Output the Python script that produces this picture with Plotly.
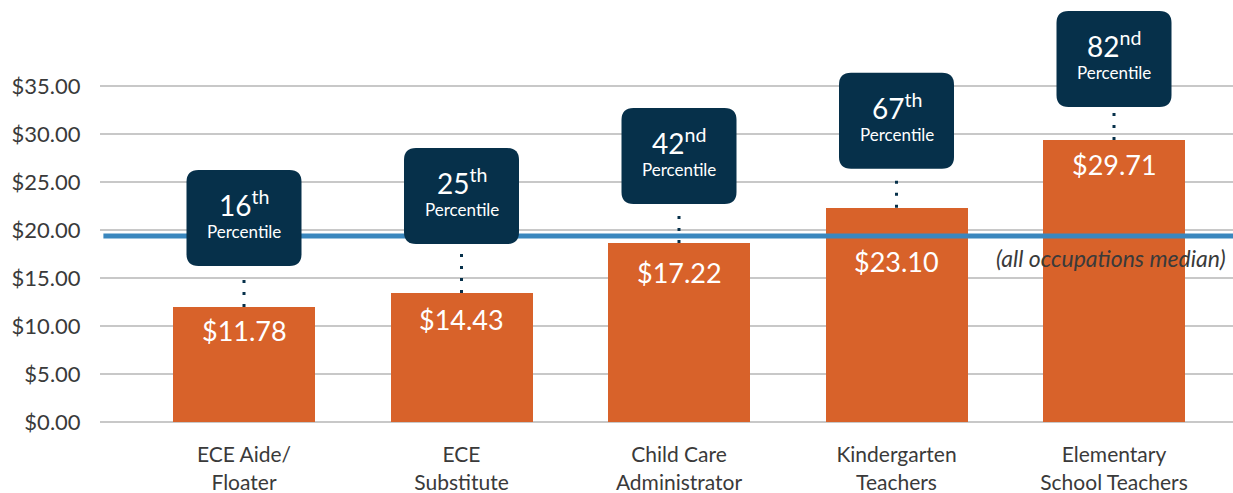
import plotly.graph_objects as go

# ---------------- data ----------------
categories = ["ECE Aide/<br>Floater", "ECE<br>Substitute", "Child Care<br>Administrator",
              "Kindergarten<br>Teachers", "Elementary<br>School Teachers"]
bar_heights = [11.98, 13.44, 18.65, 22.33, 29.38]          # bar tops as drawn
wage_labels = ["$11.78", "$14.43", "$17.22", "$23.10", "$29.71"]
pct_numbers = ["16", "25", "42", "67", "82"]
pct_suffixes = ["th", "th", "nd", "th", "nd"]
median_wage = 19.38
median_label = "(all occupations median)"
y_ticks = [0, 5, 10, 15, 20, 25, 30, 35]
y_ticktext = ["$%.2f" % v for v in y_ticks]

# ---------------- style / layout ----------------
W, H = 1233, 493
ML, MR, MT, MB = 100, 0, 0, 71
PW, PH = W - ML - MR, H - MT - MB
PX_PER_X = 217.5
PX_PER_Y = 9.6
x0 = -144 / PX_PER_X
XR = [x0, x0 + PW / PX_PER_X]
YR = [0, PH / PX_PER_Y]

BAR = "#D8622A"
NAVY = "#06304A"
BLUE = "#3A87BE"
GRID = "#C8C8C8"
TXT = "#3A3A3A"
FONT = "Lato"

box_gap_px = [41, 49, 39, 39, 33]
label_drop_px = [5, 8, 11, 35, 6]
BOX_W, BOX_H, RAD = 115, 96, 12

xs = list(range(len(categories)))

fig = go.Figure()
fig.add_trace(go.Bar(x=xs, y=bar_heights, marker=dict(color=BAR, line=dict(width=0)),
                     width=142 / PX_PER_X, hoverinfo="skip"))

shapes = []
annotations = []

# median line
shapes.append(dict(type="line", xref="paper", yref="y", x0=0.003, x1=1,
                   y0=median_wage, y1=median_wage, line=dict(color=BLUE, width=5), layer="above"))
annotations.append(dict(xref="paper", yref="y", x=1, y=median_wage, xanchor="right", yanchor="top",
                        xshift=-5, yshift=-6, showarrow=False, text="<i>" + median_label + "</i>",
                        font=dict(family=FONT, size=23, color=TXT)))


def rounded_rect(cx, yb, w_px, h_px, r_px):
    hw = w_px / 2 / PX_PER_X
    h = h_px / PX_PER_Y
    rx = r_px / PX_PER_X
    ry = r_px / PX_PER_Y
    l, r_, b, t = cx - hw, cx + hw, yb, yb + h
    return (f"M {l+rx},{b} L {r_-rx},{b} Q {r_},{b} {r_},{b+ry} L {r_},{t-ry} "
            f"Q {r_},{t} {r_-rx},{t} L {l+rx},{t} Q {l},{t} {l},{t-ry} L {l},{b+ry} "
            f"Q {l},{b} {l+rx},{b} Z")


for i, x in enumerate(xs):
    top = bar_heights[i]
    yb = top + box_gap_px[i] / PX_PER_Y
    # dotted connector
    shapes.append(dict(type="line", xref="x", yref="y", x0=x, x1=x, y0=top, y1=yb - 5 / PX_PER_Y,
                       line=dict(color=NAVY, width=3, dash="3px,9px"), layer="above"))
    # box
    shapes.append(dict(type="path", xref="x", yref="y", path=rounded_rect(x, yb, BOX_W, BOX_H, RAD),
                       fillcolor=NAVY, line=dict(width=0), layer="above"))
    annotations.append(dict(xref="x", yref="y", x=x, y=yb + BOX_H / 2 / PX_PER_Y, yshift=4,
                            showarrow=False, xanchor="center", yanchor="middle",
                            text=(f"<span style='font-size:28px'>{pct_numbers[i]}<sup>{pct_suffixes[i]}</sup></span>"
                                  f"<br>Percentile"),
                            font=dict(family=FONT, size=17, color="white")))
    # value label
    annotations.append(dict(xref="x", yref="y", x=x, y=top, yanchor="top", yshift=-label_drop_px[i],
                            showarrow=False, text=wage_labels[i],
                            font=dict(family=FONT, size=27, color="white")))

fig.update_layout(
    width=W, height=H, margin=dict(l=ML, r=MR, t=MT, b=MB),
    plot_bgcolor="white", paper_bgcolor="white", showlegend=False,
    font=dict(family=FONT, color=TXT),
    shapes=shapes, annotations=annotations, bargap=0,
    xaxis=dict(range=XR, tickvals=xs, ticktext=categories, showgrid=False, zeroline=False,
               showline=False, ticks="outside", ticklen=14, tickcolor="rgba(0,0,0,0)",
               tickfont=dict(family=FONT, size=21, color=TXT), fixedrange=True),
    yaxis=dict(range=YR, tickvals=y_ticks, ticktext=y_ticktext, showgrid=True, gridcolor=GRID,
               gridwidth=1.5, zeroline=True, zerolinecolor=GRID, zerolinewidth=1.5, showline=False,
               ticks="outside", ticklen=14, tickcolor="rgba(0,0,0,0)",
               tickfont=dict(family=FONT, size=22, color=TXT), fixedrange=True),
)

fig.write_html("out.html", config={"displayModeBar": False},
               post_script="document.body.style.margin='0px';")
